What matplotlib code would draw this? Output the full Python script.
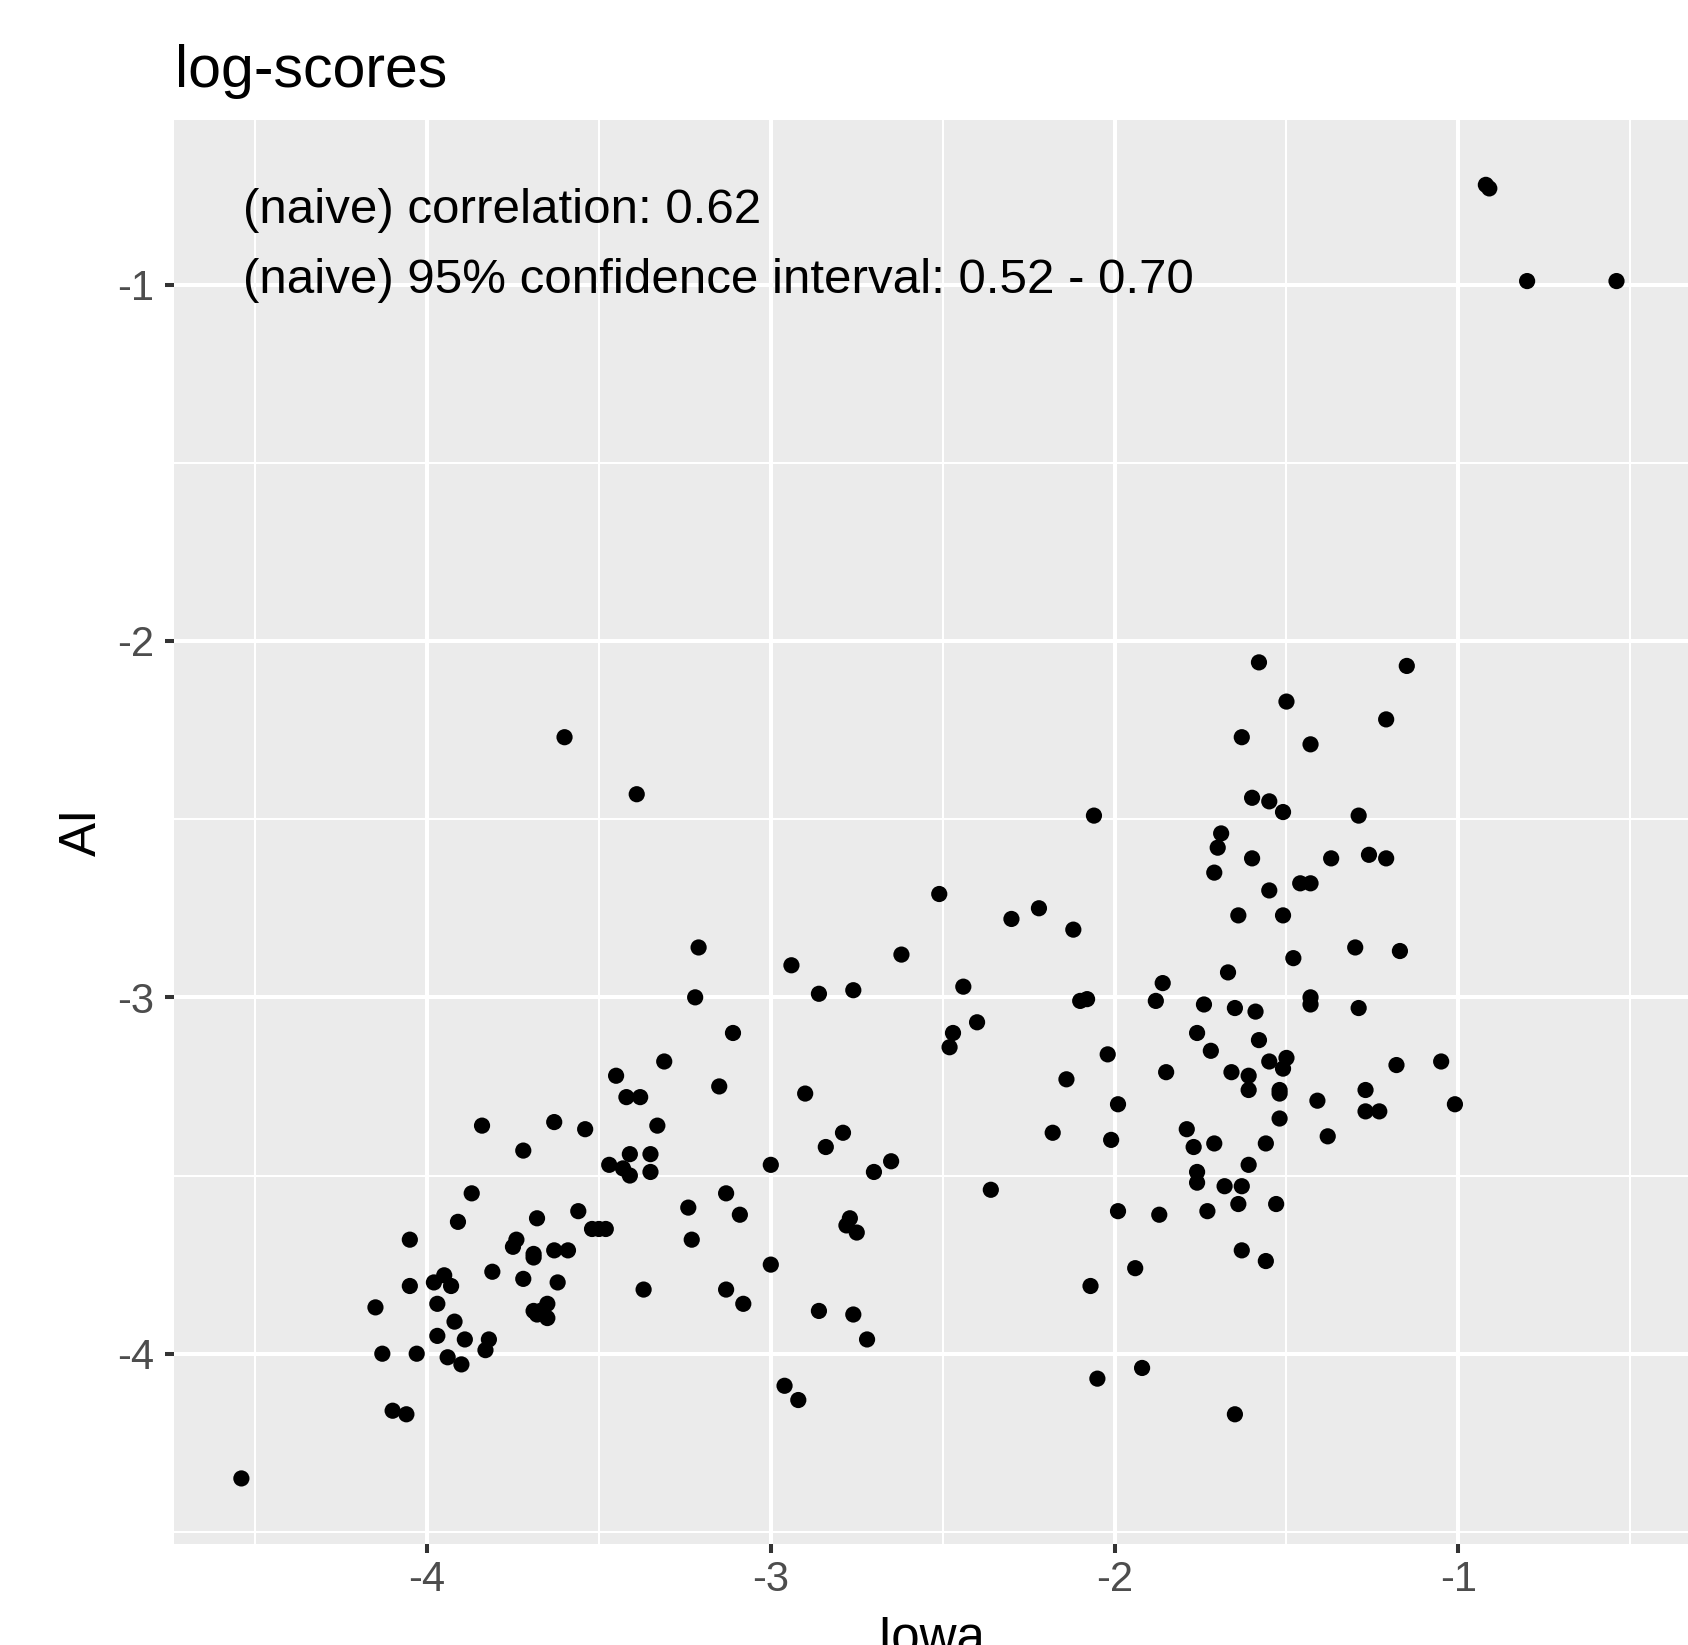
import matplotlib
matplotlib.use("Agg")
import matplotlib.pyplot as plt
from matplotlib.ticker import FixedLocator


# === DATA (log-scores) ===
iowa = [
    -0.92, -0.91, -0.80, -0.54, -3.60, -3.39, -1.58, -1.15, -1.50, -1.21,
    -1.63, -1.43, -2.06, -1.60, -1.55, -1.51, -1.29, -1.69, -1.70, -1.60,
    -1.37, -1.26, -1.21, -1.71, -1.46, -1.43, -1.55, -2.51, -2.22, -2.30,
    -2.12, -1.64, -1.51, -3.21, -2.62, -1.30, -1.17, -1.48, -2.94, -1.67,
    -2.44, -1.86, -2.86, -2.76, -3.22, -2.10, -2.08, -1.88, -1.74, -1.43,
    -1.43, -1.29, -1.65, -1.59, -2.40, -3.11, -2.47, -2.48, -1.76, -1.58,
    -1.72, -3.31, -2.02, -1.05, -1.55, -1.50, -1.51, -1.18, -1.66, -1.61,
    -1.85, -3.45, -2.14, -3.15, -3.42, -3.38, -2.90, -1.61, -1.52, -1.52,
    -1.27, -1.41, -1.99, -1.01, -1.27, -1.23, -1.52, -3.63, -3.84, -3.54,
    -3.33, -2.79, -2.18, -1.79, -2.01, -1.38, -1.71, -1.77, -1.56, -2.84,
    -3.72, -3.41, -3.35, -3.47, -2.65, -3.43, -3.41, -3.35, -3.00, -2.70,
    -1.61, -1.76, -1.76, -1.68, -1.63, -3.87, -2.36, -3.13, -1.53, -1.64,
    -3.56, -3.24, -1.73, -1.99, -1.87, -3.09, -3.68, -3.91, -3.52, -3.50,
    -3.48, -2.78, -2.77, -2.75, -3.23, -4.05, -3.74, -3.75, -3.69, -3.69,
    -3.63, -3.59, -1.63, -1.56, -1.94, -3.00, -3.81, -3.72, -4.05, -3.98,
    -3.95, -3.93, -3.62, -3.37, -3.13, -2.07, -4.15, -3.97, -3.69, -3.68,
    -3.65, -3.65, -3.67, -3.08, -2.86, -2.76, -3.92, -2.72, -3.97, -3.89,
    -3.82, -3.83, -4.13, -4.03, -3.94, -3.90, -2.05, -1.92, -2.96, -2.92,
    -4.10, -4.06, -1.65, -4.54,
]

ai = [
    -0.72, -0.73, -0.99, -0.99, -2.27, -2.43, -2.06, -2.07, -2.17, -2.22,
    -2.27, -2.29, -2.49, -2.44, -2.45, -2.48, -2.49, -2.54, -2.58, -2.61,
    -2.61, -2.60, -2.61, -2.65, -2.68, -2.68, -2.70, -2.71, -2.75, -2.78,
    -2.81, -2.77, -2.77, -2.86, -2.88, -2.86, -2.87, -2.89, -2.91, -2.93,
    -2.97, -2.96, -2.99, -2.98, -3.00, -3.01, -3.005, -3.01, -3.02, -3.00,
    -3.02, -3.03, -3.03, -3.04, -3.07, -3.10, -3.10, -3.14, -3.10, -3.12,
    -3.15, -3.18, -3.16, -3.18, -3.18, -3.17, -3.20, -3.19, -3.21, -3.22,
    -3.21, -3.22, -3.23, -3.25, -3.28, -3.28, -3.27, -3.26, -3.26, -3.27,
    -3.26, -3.29, -3.30, -3.30, -3.32, -3.32, -3.34, -3.35, -3.36, -3.37,
    -3.36, -3.38, -3.38, -3.37, -3.40, -3.39, -3.41, -3.42, -3.41, -3.42,
    -3.43, -3.44, -3.44, -3.47, -3.46, -3.48, -3.50, -3.49, -3.47, -3.49,
    -3.47, -3.49, -3.52, -3.53, -3.53, -3.55, -3.54, -3.55, -3.58, -3.58,
    -3.60, -3.59, -3.60, -3.60, -3.61, -3.61, -3.62, -3.63, -3.65, -3.65,
    -3.65, -3.64, -3.62, -3.66, -3.68, -3.68, -3.68, -3.70, -3.72, -3.73,
    -3.71, -3.71, -3.71, -3.74, -3.76, -3.75, -3.77, -3.79, -3.81, -3.80,
    -3.78, -3.81, -3.80, -3.82, -3.82, -3.81, -3.87, -3.86, -3.88, -3.89,
    -3.86, -3.90, -3.88, -3.86, -3.88, -3.89, -3.91, -3.96, -3.95, -3.96,
    -3.96, -3.99, -4.00, -4.00, -4.01, -4.03, -4.07, -4.04, -4.09, -4.13,
    -4.16, -4.17, -4.17, -4.35,
]

x_ticks = [-4, -3, -2, -1]
y_ticks = [-4, -3, -2, -1]
x_minor = [-4.5, -3.5, -2.5, -1.5, -0.5]
y_minor = [-4.5, -3.5, -2.5, -1.5]

annot_lines = [
    "(naive) correlation: 0.62",
    "(naive) 95% confidence interval: 0.52 - 0.70",
]

# === STYLE (ggplot grey theme look) ===
W, H = 1688, 1645
PANEL_BG = '#EBEBEB'
TICK_COL = '#333333'
TICKLAB_COL = '#4D4D4D'

plt.rcParams['font.family'] = ['Liberation Sans', 'DejaVu Sans']
plt.rcParams['axes.unicode_minus'] = False

fig = plt.figure(figsize=(W / 100, H / 100), dpi=100)
# panel placed in pixel terms: left 174, top 120, bottom 1544, runs to right edge
ax = fig.add_axes([174 / W, (H - 1544) / H, (W - 174) / W, (1544 - 120) / H])
ax.set_facecolor(PANEL_BG)

ax.set_xlim(-4.736, -0.332)
ax.set_ylim(-4.534, -0.538)

ax.xaxis.set_major_locator(FixedLocator(x_ticks))
ax.yaxis.set_major_locator(FixedLocator(y_ticks))
ax.xaxis.set_minor_locator(FixedLocator(x_minor))
ax.yaxis.set_minor_locator(FixedLocator(y_minor))
ax.set_xticklabels([str(t) for t in x_ticks])
ax.set_yticklabels([str(t) for t in y_ticks])

ax.grid(True, which='major', color='white', linewidth=2.9)
ax.grid(True, which='minor', color='white', linewidth=1.45)
ax.set_axisbelow(True)

for s in ax.spines.values():
    s.set_visible(False)

ax.tick_params(which='major', length=6.5, width=2.9, color=TICK_COL,
               labelcolor=TICKLAB_COL, labelsize=30)
ax.tick_params(axis='x', which='major', pad=5)
ax.tick_params(axis='y', which='major', pad=8)
ax.tick_params(which='minor', length=0)

ax.scatter(iowa, ai, s=136, color='black', edgecolors='none', zorder=3)

# annotation, left aligned at the smallest Iowa value
ax.text(-4.534, -0.827, annot_lines[0], fontsize=35.5, color='black',
        ha='left', va='baseline', zorder=4)
ax.text(-4.534, -1.023, annot_lines[1], fontsize=35.5, color='black',
        ha='left', va='baseline', zorder=4)

# titles
fig.text(175 / W, 1 - 87 / H, "log-scores", fontsize=42.5, color='black',
         ha='left', va='baseline')
fig.text(82 / W, 1 - 832 / H, "AI", fontsize=36.8, color='black',
         rotation=90, ha='center', va='center')
fig.text(931 / W, -7.4 / H, "Iowa", fontsize=36.8, color='black',
         ha='center', va='baseline')

fig.savefig('out.png', dpi=100, facecolor='white')
